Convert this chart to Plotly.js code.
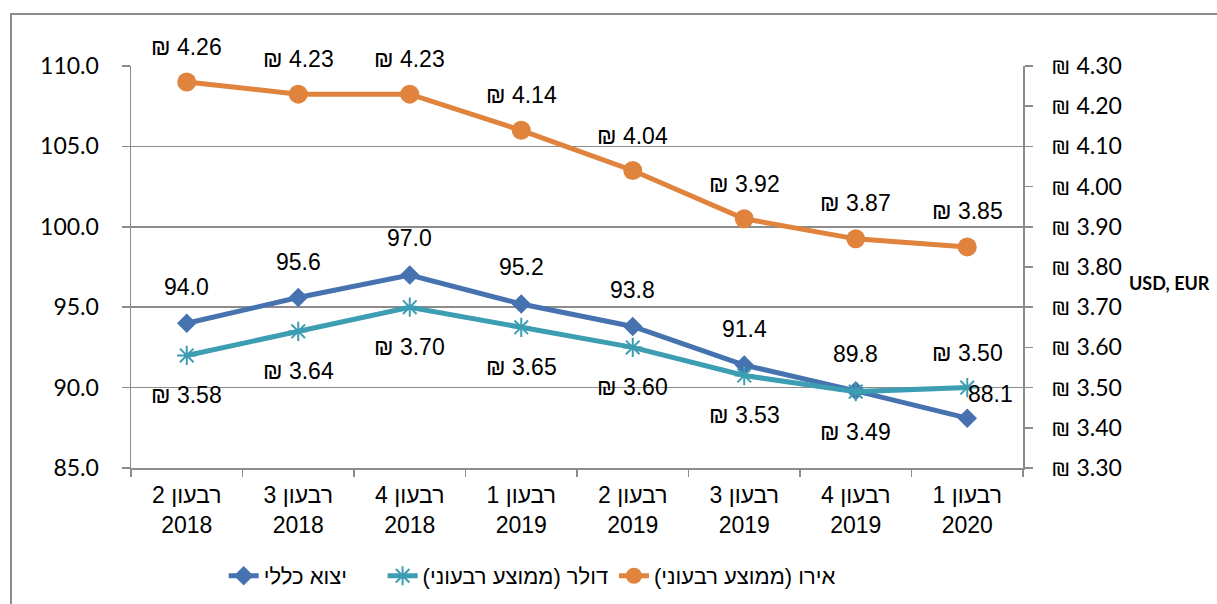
<!DOCTYPE html>
<html>
<head>
<meta charset="utf-8">
<script src="https://cdn.plot.ly/plotly-3.0.1.min.js"></script>
<style>
  html, body { margin: 0; padding: 0; background: #fff; }
  #chart { width: 1217px; height: 604px; }
  #frame { position: absolute; left: 10px; top: 13px; width: 1400px; height: 800px;
           border-left: 2px solid #8c8c8c; border-top: 2px solid #8c8c8c; pointer-events: none; }
</style>
</head>
<body>
<div id="chart"></div>
<div id="frame"></div>
<script>
// ---- data ----
const quarters = ['רבעון 2', 'רבעון 3', 'רבעון 4', 'רבעון 1', 'רבעון 2', 'רבעון 3', 'רבעון 4', 'רבעון 1'];
const years = ['2018', '2018', '2018', '2019', '2019', '2019', '2019', '2020'];
const exportsIndex = [94.0, 95.6, 97.0, 95.2, 93.8, 91.4, 89.8, 88.1];
const usdAvg = [3.58, 3.64, 3.70, 3.65, 3.60, 3.53, 3.49, 3.50];
const eurAvg = [4.26, 4.23, 4.23, 4.14, 4.04, 3.92, 3.87, 3.85];
const seriesNames = ['יצוא כללי', 'דולר (ממוצע רבעוני)', 'אירו (ממוצע רבעוני)'];
const rightAxisTitle = 'USD, EUR';

// ---- label offsets (pixels) ----
const exportLabelDY = [36, 36, 37, 37, 37, 36, 37, 24];
const exportLabelDX = [0, 0, 0, 0, 0, 0, 0, 23];
const usdLabelDY = [-40, -40, -40, -40, -40, -39, -40, 35];
const eurLabelDY = [35, 35, 35, 35, 35, 35, 36, 36];

const categories = quarters.map((q, i) => q + '<br>' + years[i]);
const RLM = '\u200F';

const COLORS = { exp: '#4672B0', usd: '#3C9DB3', eur: '#E0833C' };
const GRID = '#8c8c8c';
const ARIAL = 'Liberation Sans, Arial, sans-serif';
const CAL = 'Lato, Liberation Sans, sans-serif';

const traces = [
  {
    x: categories, y: exportsIndex, yaxis: 'y', name: RLM + seriesNames[0] + RLM, legend: 'legend',
    type: 'scatter', mode: 'lines+markers',
    line: { color: COLORS.exp, width: 5 },
    marker: { symbol: 'diamond', size: 15, color: COLORS.exp },
    hoverinfo: 'skip'
  },
  {
    x: categories, y: usdAvg, yaxis: 'y2', name: RLM + seriesNames[1] + RLM, legend: 'legend2',
    type: 'scatter', mode: 'lines+markers',
    line: { color: COLORS.usd, width: 5 },
    marker: { symbol: 'asterisk-open', size: 16, color: COLORS.usd, line: { color: COLORS.usd, width: 2 } },
    hoverinfo: 'skip'
  },
  {
    x: categories, y: eurAvg, yaxis: 'y2', name: RLM + seriesNames[2] + RLM, legend: 'legend3',
    type: 'scatter', mode: 'lines+markers',
    line: { color: COLORS.eur, width: 5 },
    marker: { symbol: 'circle', size: 19, color: COLORS.eur },
    hoverinfo: 'skip'
  }
];

const annotations = [];
const labelFont = { family: ARIAL, size: 23, color: '#000' };
categories.forEach((c, i) => {
  annotations.push({ x: c, y: exportsIndex[i], xref: 'x', yref: 'y', text: exportsIndex[i].toFixed(1),
    showarrow: false, yshift: exportLabelDY[i], xshift: exportLabelDX[i], font: labelFont });
  annotations.push({ x: c, y: usdAvg[i], xref: 'x', yref: 'y2', text: '₪ ' + usdAvg[i].toFixed(2),
    showarrow: false, yshift: usdLabelDY[i], font: labelFont });
  annotations.push({ x: c, y: eurAvg[i], xref: 'x', yref: 'y2', text: '₪ ' + eurAvg[i].toFixed(2),
    showarrow: false, yshift: eurLabelDY[i], font: labelFont });
});
annotations.push({
  xref: 'paper', yref: 'paper', x: 1.1166, xanchor: 'left', y: 0.46, yanchor: 'middle',
  text: '<b>' + rightAxisTitle + '</b>',
  showarrow: false, font: { family: CAL, size: 18, color: '#000' }
});

const legendBase = { orientation: 'h', xref: 'container', yref: 'container', y: 0.0464, yanchor: 'middle',
  bgcolor: 'rgba(0,0,0,0)', font: { family: ARIAL, size: 22, color: '#000' } };

const layout = {
  width: 1217, height: 604,
  margin: { l: 131, r: 194, t: 66, b: 136 },
  paper_bgcolor: 'rgba(0,0,0,0)', plot_bgcolor: 'rgba(0,0,0,0)',
  showlegend: true,
  legend: Object.assign({}, legendBase, { x: 0.1838, xanchor: 'left' }),
  legend2: Object.assign({}, legendBase, { x: 0.3144, xanchor: 'left' }),
  legend3: Object.assign({}, legendBase, { x: 0.5045, xanchor: 'left' }),
  xaxis: {
    type: 'category', range: [-0.5, 7.5], tickson: 'boundaries',
    ticks: 'outside', ticklen: 7, tickcolor: GRID, tickwidth: 1.5,
    showline: true, linecolor: GRID, linewidth: 1.5, showgrid: false, zeroline: false,
    ticklabelstandoff: 6,
    tickfont: { family: ARIAL, size: 23, color: '#000' }
  },
  yaxis: {
    range: [85, 110], dtick: 5, tick0: 85, tickformat: '.1f',
    ticks: 'outside', ticklen: 8, tickcolor: GRID, tickwidth: 1.5,
    showline: true, linecolor: GRID, linewidth: 1.5,
    showgrid: true, gridcolor: GRID, gridwidth: 1.5, zeroline: false,
    ticklabelstandoff: 18,
    tickfont: { family: CAL, size: 23, color: '#000' }
  },
  yaxis2: {
    overlaying: 'y', side: 'right', range: [3.3, 4.3], dtick: 0.1, tick0: 3.3,
    tickformat: '.2f', tickprefix: '₪ ',
    ticks: 'outside', ticklen: 8, tickcolor: GRID, tickwidth: 1.5,
    showline: true, linecolor: GRID, linewidth: 1.5, showgrid: false, zeroline: false,
    ticklabelstandoff: 14,
    tickfont: { family: CAL, size: 23, color: '#000' }
  },
  annotations: annotations
};

Plotly.newPlot('chart', traces, layout, { displayModeBar: false, staticPlot: true });
</script>
</body>
</html>
